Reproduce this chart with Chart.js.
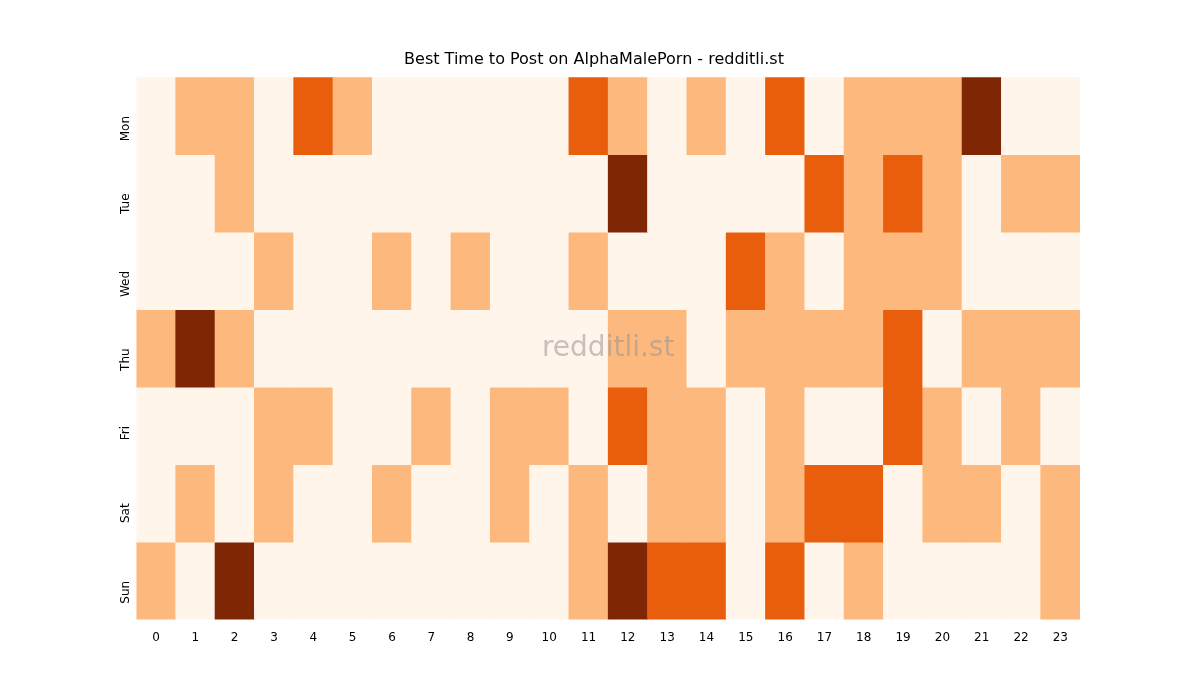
<!DOCTYPE html><html><head><script src="https://cdn.jsdelivr.net/npm/chart.js@4"></script>
<style>body{margin:0;background:#fff}</style></head><body><canvas id="c" width="1200" height="700"></canvas>
<script>
const hours=[...Array(24).keys()].map(String);
const days=["Mon","Tue","Wed","Thu","Fri","Sat","Sun"];
const Mon=[0,1,1,0,2,1,0,0,0,0,0,2,1,0,1,0,2,0,1,1,1,3,0,0];
const Tue=[0,0,1,0,0,0,0,0,0,0,0,0,3,0,0,0,0,2,1,2,1,0,1,1];
const Wed=[0,0,0,1,0,0,1,0,1,0,0,1,0,0,0,2,1,0,1,1,1,0,0,0];
const Thu=[1,3,1,0,0,0,0,0,0,0,0,0,1,1,0,1,1,1,1,2,0,1,1,1];
const Fri=[0,0,0,1,1,0,0,1,0,1,1,0,2,1,1,0,1,0,0,2,1,0,1,0];
const Sat=[0,1,0,1,0,0,1,0,0,1,0,1,0,1,1,0,1,2,2,0,1,1,0,1];
const Sun=[1,0,3,0,0,0,0,0,0,0,0,1,3,2,2,0,2,0,1,0,0,0,0,1];
const rows=[Mon,Tue,Wed,Thu,Fri,Sat,Sun];
const pal=["#fff5eb","#fdb97d","#e95e0d","#7f2704"];
const wm={id:'wm',afterDatasetsDraw(ch){const a=ch.chartArea,c=ch.ctx;c.save();c.font='28px "DejaVu Sans"';c.fillStyle='rgba(150,150,150,0.55)';c.textAlign='center';c.textBaseline='middle';c.fillText('redditli.st',(a.left+a.right)/2,(a.top+a.bottom)/2);c.restore();}};
new Chart(document.getElementById('c'),{type:'bar',
data:{labels:hours,datasets:rows.map((r,i)=>({label:days[i],data:r.map(()=>1),backgroundColor:r.map(v=>pal[v]),borderWidth:0,barPercentage:1,categoryPercentage:1}))},
options:{responsive:false,animation:false,devicePixelRatio:1,
layout:{padding:{left:108,right:120,top:50,bottom:52}},
plugins:{legend:{display:false},tooltip:{enabled:false},title:{display:true,text:'Best Time to Post on AlphaMalePorn - redditli.st',color:'#000',font:{family:'DejaVu Sans',size:16,weight:'normal'},padding:{top:0,bottom:8}}},
scales:{x:{stacked:true,grid:{display:false},border:{display:false},ticks:{color:'#000',font:{family:'DejaVu Sans',size:12},maxRotation:0}},
y:{stacked:true,reverse:true,min:0,max:7,grid:{display:false},border:{display:false},
afterBuildTicks(s){s.ticks=days.map((d,i)=>({value:i+0.5}));},
ticks:{color:'#000',font:{family:'DejaVu Sans',size:12},callback:(v)=>days[Math.floor(v)],minRotation:90,maxRotation:90}}}},
plugins:[wm]});
</script></body></html>
